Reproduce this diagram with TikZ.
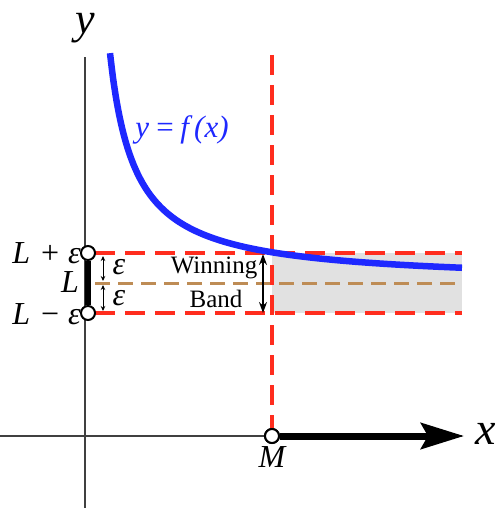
\documentclass[tikz,border=0pt]{standalone}
\usepackage{fontspec}
\setmainfont{Liberation Serif}
\usetikzlibrary{arrows.meta}
\definecolor{bandred}{RGB}{255,45,30}
\definecolor{curveblue}{RGB}{30,40,255}
\definecolor{limbrown}{RGB}{190,140,85}
\definecolor{bandgray}{RGB}{225,225,225}
\begin{document}
\begin{tikzpicture}[x=1pt,y=-1pt,
  axisline/.style={line width=1.3pt, black!75},
  reddash/.style={bandred, line width=3.5pt, dash pattern=on 20pt off 10pt},
  browndash/.style={limbrown, line width=3pt, dash pattern=on 15pt off 8pt},
  opendot/.style={circle, draw=black, fill=white, line width=2pt, minimum size=14pt, inner sep=0pt},
  lbl/.style={font=\fontsize{32}{32}\selectfont, inner sep=0pt},
  ilbl/.style={font=\fontsize{32}{32}\selectfont\itshape, inner sep=0pt},
  bandtxt/.style={font=\fontsize{25}{25}\selectfont, inner sep=0pt},
  epsarrow/.style={line width=0.9pt, {Stealth[length=5pt,width=4.5pt]}-{Stealth[length=5pt,width=4.5pt]}},
  bigarrow/.style={line width=1.4pt, {Stealth[length=11pt,width=8pt]}-{Stealth[length=11pt,width=8pt]}}]
\useasboundingbox (0,0) rectangle (500,508);
% gray band
\fill[bandgray] (272,253) rectangle (462,313);
% axes
\coordinate (xl) at (0,436);
\coordinate (xr) at (462,436);
\coordinate (yb) at (85,508);
\coordinate (yt) at (85,57);
\draw[axisline] (xl) -- (xr);
\draw[axisline] (yb) -- (yt);
\node[font=\fontsize{44}{44}\selectfont\itshape] (ylab) at (85,28) {y};
\node[font=\fontsize{46}{46}\selectfont\itshape] (xlab) at (486,434) {x};
% limit line
\coordinate (Ll) at (95,283);
\coordinate (Lr) at (462,283);
\draw[browndash] (Ll) -- (Lr);
% band lines
\coordinate (Tl) at (95,253);
\coordinate (Tr) at (462,253);
\coordinate (Bl) at (95,313);
\coordinate (Br) at (462,313);
\draw[reddash] (Tl) -- (Tr);
\draw[reddash] (Bl) -- (Br);
% vertical line at M
\coordinate (Vt) at (272,55);
\node[opendot] (M) at (272,436) {};
\draw[reddash] (Vt) -- (M.north);
% curve
\draw[curveblue, line width=6.5pt, line cap=butt] plot[domain=110:462, samples=120, smooth] (\x, {283 - 5746/(\x-85)});
\node[curveblue, inner sep=0pt, font=\fontsize{31}{31}\selectfont\itshape] (flab) at (182,130) {y\,=\,f\,(x)};
% thick segment on y axis
\node[opendot] (Up) at (88,253) {};
\node[opendot] (Lo) at (88,313) {};
\draw[line width=6pt] (Up.south) -- (Lo.north);
% labels
\node[inner sep=0pt, anchor=east] (lpe) at (81,253) {\fontsize{32}{32}\selectfont\textit{L}\hspace{11pt}+\hspace{9pt}\textit{ε}};
\node[inner sep=0pt, anchor=east] (ll) at (79,282) {\fontsize{32}{32}\selectfont\textit{L}};
\node[inner sep=0pt, anchor=east] (lme) at (81,314) {\fontsize{32}{32}\selectfont\textit{L}\hspace{11pt}−\hspace{9pt}\textit{ε}};
% epsilon arrows
\coordinate (e1t) at (103,256);
\coordinate (e1b) at (103,281);
\coordinate (e2t) at (103,285);
\coordinate (e2b) at (103,311);
\draw[epsarrow] (e1t) -- (e1b);
\draw[epsarrow] (e2t) -- (e2b);
\node[ilbl] (eps1) at (119,267) {ε};
\node[ilbl] (eps2) at (119,298) {ε};
% winning band
\node[bandtxt] (win) at (214,268) {Winning};
\node[bandtxt] (band) at (216,299) {Band};
\coordinate (wt) at (263,254);
\coordinate (wb) at (263,313);
\draw[bigarrow] (wt) -- (wb);
% M and arrow to infinity
\coordinate (xend) at (464,436);
\draw[line width=7pt, -{Stealth[length=43pt,width=26pt,inset=7pt]}] (M.east) -- (xend);
\node[opendot] (M2) at (272,436) {};
\node[ilbl] (mlab) at (272,457) {M};
\end{tikzpicture}
\end{document}
